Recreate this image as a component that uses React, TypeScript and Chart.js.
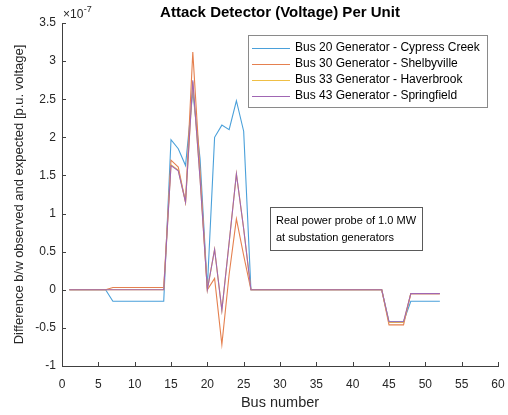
import React, { useEffect, useRef } from 'react';
import { Chart, registerables } from 'chart.js';

Chart.register(...registerables);

const FONT = '"Liberation Sans", Arial, Helvetica, sans-serif';
const TEXT_COLOR = '#262626';
const AXIS_COLOR = '#404040';

const chartTitle = 'Attack Detector (Voltage) Per Unit';
const xAxisTitle = 'Bus number';
const yAxisTitle = 'Difference b/w observed and expected [p.u. voltage]';
const yExponent = '-7';
const annotationLines = ['Real power probe of 1.0 MW', 'at substation generators'];

const xMin = 0;
const xMax = 60;
const xStep = 5;
const yMin = -1;
const yMax = 3.5;
const yStep = 0.5;

const buses = [
  1, 2, 3, 4, 5, 6, 7, 8, 9, 10, 11, 12, 13, 14, 15, 16, 17, 18, 19, 20,
  21, 22, 23, 24, 25, 26, 27, 28, 29, 30, 31, 32, 33, 34, 35, 36, 37, 38, 39, 40,
  41, 42, 43, 44, 45, 46, 47, 48, 49, 50, 51, 52,
];

const seriesLabels = [
  'Bus 20 Generator - Cypress Creek',
  'Bus 30 Generator - Shelbyville',
  'Bus 33 Generator - Haverbrook',
  'Bus 43 Generator - Springfield',
];

const seriesColors = ['#4aa0da', '#e5804f', '#efbf45', '#a066b3'];

// values in units of 1e-7 p.u.
const bus20Cypress = [
  0, 0, 0, 0, 0, 0, -0.15, -0.15, -0.15, -0.15, -0.15, -0.15, -0.15, -0.15, 1.97, 1.85, 1.63, 2.6, 1.72, 0.02,
  2.0, 2.16, 2.1, 2.48, 2.08, 0, 0, 0, 0, 0, 0, 0, 0, 0, 0, 0, 0, 0, 0, 0,
  0, 0, 0, 0, -0.42, -0.42, -0.42, -0.15, -0.15, -0.15, -0.15, -0.15,
];

const bus30Shelbyville = [
  0, 0, 0, 0, 0, 0, 0.03, 0.03, 0.03, 0.03, 0.03, 0.03, 0.03, 0.03, 1.7, 1.61, 1.15, 3.12, 1.55, 0,
  0.15, -0.72, 0.2, 0.93, 0.45, 0, 0, 0, 0, 0, 0, 0, 0, 0, 0, 0, 0, 0, 0, 0,
  0, 0, 0, 0, -0.46, -0.46, -0.46, -0.05, -0.05, -0.05, -0.05, -0.05,
];

const bus33Haverbrook = [
  0, 0, 0, 0, 0, 0, 0, 0, 0, 0, 0, 0, 0, 0, 1.64, 1.57, 1.15, 2.73, 1.46, 0,
  0.53, -0.27, 0.62, 1.52, 0.8, 0, 0, 0, 0, 0, 0, 0, 0, 0, 0, 0, 0, 0, 0, 0,
  0, 0, 0, 0, -0.43, -0.43, -0.43, -0.05, -0.05, -0.05, -0.05, -0.05,
];

const bus43Springfield = [
  0, 0, 0, 0, 0, 0, 0, 0, 0, 0, 0, 0, 0, 0, 1.63, 1.56, 1.15, 2.75, 1.45, 0,
  0.53, -0.27, 0.62, 1.52, 0.8, 0, 0, 0, 0, 0, 0, 0, 0, 0, 0, 0, 0, 0, 0, 0,
  0, 0, 0, 0, -0.42, -0.42, -0.42, -0.05, -0.05, -0.05, -0.05, -0.05,
];

const seriesValues = [bus20Cypress, bus30Shelbyville, bus33Haverbrook, bus43Springfield];

const overlayPlugin = {
  id: 'matlabOverlay',
  afterDraw(chart: any) {
    const { ctx, chartArea: ca, scales } = chart;
    const xs = scales.x;
    const ys = scales.y;
    ctx.save();

    // inward ticks
    ctx.strokeStyle = AXIS_COLOR;
    ctx.lineWidth = 1;
    ctx.beginPath();
    xs.ticks.forEach((t: any) => {
      const px = Math.round(xs.getPixelForValue(t.value)) + 0.5;
      ctx.moveTo(px, ca.bottom);
      ctx.lineTo(px, ca.bottom - 4);
    });
    ys.ticks.forEach((t: any) => {
      const py = Math.round(ys.getPixelForValue(t.value)) + 0.5;
      ctx.moveTo(ca.left, py);
      ctx.lineTo(ca.left + 4, py);
    });
    ctx.stroke();

    // title
    ctx.fillStyle = '#000';
    ctx.font = `bold 15px ${FONT}`;
    ctx.textAlign = 'center';
    ctx.textBaseline = 'middle';
    ctx.fillText(chartTitle, (ca.left + ca.right) / 2, ca.top - 10);

    // exponent label
    ctx.fillStyle = TEXT_COLOR;
    ctx.textAlign = 'left';
    ctx.font = `12px ${FONT}`;
    const baseTxt = '\u00d710';
    const ex = ca.left + 1;
    const ey = ca.top - 8;
    ctx.fillText(baseTxt, ex, ey);
    const bw = ctx.measureText(baseTxt).width;
    ctx.font = `9px ${FONT}`;
    ctx.fillText(yExponent, ex + bw + 0.5, ey - 5);

    // legend box
    const lgRight = ca.right - 11;
    const lgLeft = lgRight - 239;
    const lgTop = ca.top + 12;
    const lgH = 72;
    ctx.fillStyle = '#fff';
    ctx.fillRect(lgLeft, lgTop, lgRight - lgLeft, lgH);
    ctx.strokeStyle = '#8a8a8a';
    ctx.lineWidth = 1;
    ctx.strokeRect(Math.round(lgLeft) + 0.5, Math.round(lgTop) + 0.5, Math.round(lgRight - lgLeft), lgH);
    ctx.font = `12px ${FONT}`;
    ctx.textBaseline = 'middle';
    seriesLabels.forEach((label, i) => {
      const cy = lgTop + 12.5 + i * 16;
      ctx.strokeStyle = seriesColors[i];
      ctx.lineWidth = 1;
      ctx.beginPath();
      ctx.moveTo(lgLeft + 4, Math.round(cy) + 0.5);
      ctx.lineTo(lgLeft + 42, Math.round(cy) + 0.5);
      ctx.stroke();
      ctx.fillStyle = '#000';
      ctx.fillText(label, lgLeft + 47, cy + 0.5);
    });

    // annotation box
    const anLeft = ca.left + 208;
    const anTop = ca.top + 184;
    const anW = 152;
    const anH = 43;
    ctx.fillStyle = '#fff';
    ctx.fillRect(anLeft, anTop, anW, anH);
    ctx.strokeStyle = '#5a5a5a';
    ctx.strokeRect(Math.round(anLeft) + 0.5, Math.round(anTop) + 0.5, anW, anH);
    ctx.fillStyle = '#000';
    ctx.font = `11px ${FONT}`;
    annotationLines.forEach((line, i) => {
      ctx.fillText(line, anLeft + 6, anTop + 14 + i * 17);
    });

    ctx.restore();
  },
};

export default function App() {
  const canvasRef = useRef<HTMLCanvasElement | null>(null);

  useEffect(() => {
    document.body.style.margin = '0';
    const canvas = canvasRef.current;
    if (!canvas) return;

    const datasets = seriesLabels.map((label, i) => ({
      label,
      data: buses.map((b, j) => ({ x: b, y: seriesValues[i][j] })),
      borderColor: seriesColors[i],
      backgroundColor: seriesColors[i],
      borderWidth: 1.1,
      pointRadius: 0,
      tension: 0,
      fill: false,
      order: seriesLabels.length - i,
    }));

    const chart = new Chart(canvas, {
      type: 'line',
      data: { datasets },
      plugins: [overlayPlugin],
      options: {
        animation: false,
        responsive: false,
        maintainAspectRatio: false,
        layout: { padding: { top: 23, right: 10, left: 0, bottom: 0 } },
        plugins: {
          legend: { display: false },
          title: { display: false },
          tooltip: { enabled: false },
        },
        scales: {
          x: {
            type: 'linear',
            min: xMin,
            max: xMax,
            afterFit: (s: any) => { s.height = 49; s.paddingLeft = 0; s.paddingRight = 0; },
            ticks: {
              stepSize: xStep,
              color: TEXT_COLOR,
              font: { family: FONT, size: 12 },
              padding: 11,
              maxRotation: 0,
              callback: (v: any) => String(Number(v)),
            },
            grid: { display: false, drawTicks: false },
            border: { display: true, color: AXIS_COLOR, width: 1 },
            title: {
              display: true,
              text: xAxisTitle,
              color: TEXT_COLOR,
              font: { family: FONT, size: 14.5 },
              padding: { top: 0, bottom: 3 },
            },
          },
          y: {
            type: 'linear',
            min: yMin,
            max: yMax,
            afterFit: (s: any) => { s.width = 62; s.paddingTop = 0; s.paddingBottom = 0; },
            ticks: {
              stepSize: yStep,
              color: TEXT_COLOR,
              font: { family: FONT, size: 12 },
              padding: 6,
              callback: (v: any) => String(Number(v)),
            },
            grid: { display: false, drawTicks: false },
            border: { display: true, color: AXIS_COLOR, width: 1 },
            title: {
              display: true,
              text: yAxisTitle,
              color: TEXT_COLOR,
              font: { family: FONT, size: 13 },
              padding: { top: 12, bottom: 0 },
            },
          },
        },
      },
    } as any);

    return () => chart.destroy();
  }, []);

  return (
    <div style={{ width: 508, height: 415, background: '#fff' }}>
      <canvas ref={canvasRef} width={508} height={415} />
    </div>
  );
}
